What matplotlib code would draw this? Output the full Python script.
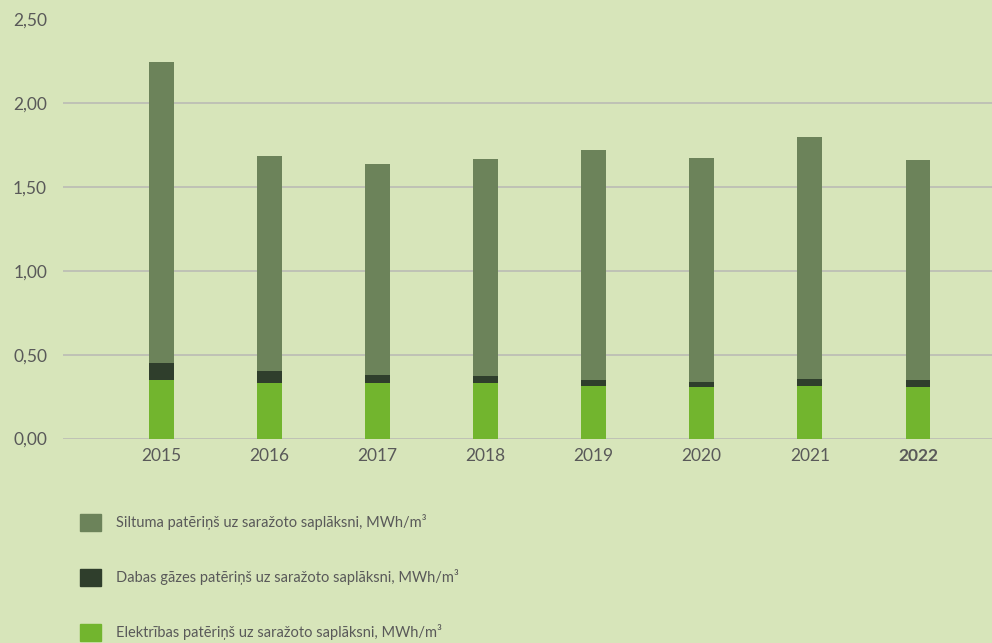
import matplotlib
matplotlib.use("Agg")
import matplotlib.pyplot as plt
from matplotlib.patches import Patch

years = ["2015", "2016", "2017", "2018", "2019", "2020", "2021", "2022"]
elektriba = [0.351, 0.333, 0.333, 0.333, 0.315, 0.310, 0.315, 0.310]
gaze = [0.101, 0.072, 0.048, 0.042, 0.036, 0.029, 0.042, 0.041]
siltums = [1.792, 1.280, 1.256, 1.292, 1.369, 1.334, 1.441, 1.310]
labels = ["Siltuma patēriņš uz saražoto saplāksni, MWh/m³",
          "Dabas gāzes patēriņš uz saražoto saplāksni, MWh/m³",
          "Elektrības patēriņš uz saražoto saplāksni, MWh/m³"]
yticks = [0.0, 0.5, 1.0, 1.5, 2.0, 2.5]
ytick_labels = ["0,00", "0,50", "1,00", "1,50", "2,00", "2,50"]

bg = "#D7E5BA"
c_heat = "#6C835A"
c_gas = "#2F3E2C"
c_el = "#72B52E"
txt = "#595959"

plt.rcParams['font.family'] = ['Lato', 'DejaVu Sans']

fig = plt.figure(figsize=(9.92, 6.43), dpi=100, facecolor=bg)
W, H = 992, 643
ax = fig.add_axes([63 / W, (H - 438.5) / H, (992 - 63) / W, (438.5 - 19.5) / H])
ax.set_facecolor(bg)

x = list(range(len(years)))
w = 0.23
bottom2 = [a + b for a, b in zip(elektriba, gaze)]
ax.bar(x, elektriba, width=w, color=c_el, zorder=3)
ax.bar(x, gaze, width=w, bottom=elektriba, color=c_gas, zorder=3)
ax.bar(x, siltums, width=w, bottom=bottom2, color=c_heat, zorder=3)

ax.set_ylim(0, 2.5)
ax.set_xlim(-0.907, 7.685)
ax.set_yticks(yticks)
ax.set_yticklabels(ytick_labels)
ax.set_xticks(x)
ax.set_xticklabels(years)
for lab in ax.get_xticklabels():
    if lab.get_text() == "2022":
        lab.set_fontweight("bold")
ax.tick_params(axis='both', length=0, colors=txt, labelsize=12.5)
ax.tick_params(axis='x', pad=7)
ax.tick_params(axis='y', pad=11.5)
ax.grid(axis='y', color="#BDBFB5", linewidth=1.3, zorder=0)
for s in ax.spines.values():
    s.set_visible(False)

handles = [Patch(color=c_heat), Patch(color=c_gas), Patch(color=c_el)]
fs = 10.5
hs = 21 / (fs * 100 / 72)
leg = fig.legend(handles, labels, loc='upper left', bbox_to_anchor=(80 / W, 1 - 513.5 / H),
                 frameon=False, fontsize=fs, labelcolor=txt, handlelength=hs,
                 handleheight=hs, handletextpad=1.05, labelspacing=2.6,
                 borderaxespad=0, borderpad=0)

fig.savefig("out.png", dpi=100, facecolor=bg)
